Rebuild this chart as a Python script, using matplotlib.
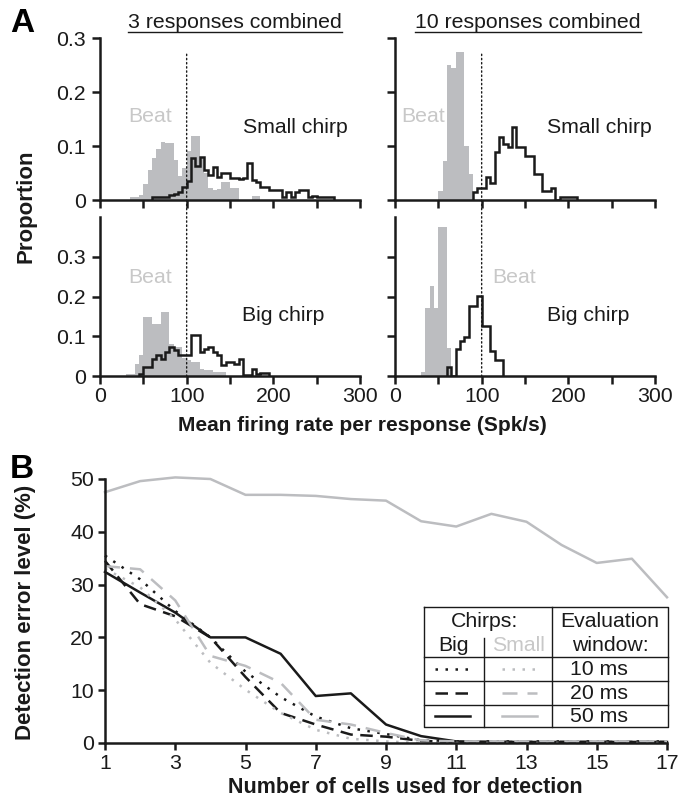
import numpy as np
import matplotlib
matplotlib.use("Agg")
import matplotlib.pyplot as plt
from matplotlib.lines import Line2D
from matplotlib.patches import ConnectionPatch

plt.rcParams['font.family'] = ['Liberation Sans', 'DejaVu Sans']

# ---- Panel A data: proportions per 5 Spk/s bin, with left edge of the first bin ----
BIN_WIDTH = 5

beat3_small_start = 35
beat3_small = [0.005, 0.005, 0.01, 0.03, 0.055, 0.077, 0.095, 0.108, 0.105, 0.105, 0.075,
               0.045, 0.06, 0.09, 0.118, 0.118, 0.08, 0.05, 0.022, 0.018, 0.02, 0.034,
               0.034, 0.022, 0.022, 0.0, 0.0, 0.0, 0.008, 0.008]
chirp3_small_start = 60
chirp3_small = [0.005, 0.005, 0.005, 0.005, 0.01, 0.012, 0.015, 0.025, 0.035, 0.077, 0.063,
                0.079, 0.055, 0.046, 0.062, 0.043, 0.05, 0.05, 0.04, 0.04, 0.038, 0.04,
                0.068, 0.037, 0.034, 0.025, 0.025, 0.018, 0.018, 0.018, 0.005, 0.015,
                0.005, 0.015, 0.018, 0.018, 0.005, 0.008, 0.005, 0.005, 0.005, 0.005]

beat10_small_start = 50
beat10_small = [0.017, 0.073, 0.25, 0.245, 0.274, 0.274, 0.10, 0.048]
chirp10_small_start = 90
chirp10_small = [0.014, 0.023, 0.023, 0.042, 0.031, 0.088, 0.116, 0.103, 0.099, 0.135,
                 0.099, 0.099, 0.082, 0.082, 0.048, 0.048, 0.016, 0.016, 0.023, 0.0,
                 0.006, 0.006, 0.006, 0.006]

beat3_big_start = 30
beat3_big = [0.006, 0.006, 0.031, 0.054, 0.148, 0.148, 0.13, 0.13, 0.16, 0.16, 0.08, 0.073,
             0.073, 0.046, 0.04, 0.035, 0.035, 0.018, 0.014, 0.014, 0.01, 0.01, 0.01]
chirp3_big_start = 45
chirp3_big = [0.006, 0.022, 0.022, 0.043, 0.053, 0.043, 0.06, 0.072, 0.066, 0.054, 0.054,
              0.054, 0.104, 0.104, 0.06, 0.068, 0.072, 0.06, 0.054, 0.027, 0.035, 0.035,
              0.031, 0.043, 0.003, 0.003, 0.017, 0.006, 0.008, 0.008]

beat10_big_start = 30
beat10_big = [0.011, 0.172, 0.227, 0.172, 0.376, 0.376, 0.07]
chirp10_big_start = 60
chirp10_big = [0.023, 0.0, 0.067, 0.087, 0.097, 0.176, 0.176, 0.202, 0.126, 0.126, 0.063,
               0.04, 0.04]

# ---- Panel B data: detection error (%) vs number of cells ----
cells = [1, 2, 3, 4, 5, 6, 7, 8, 9, 10, 11, 12, 13, 14, 15, 16, 17]
big_10ms = [35.5, 31.0, 25.0, 20.0, 13.5, 8.7, 5.0, 2.8, 1.7, 0.5, 0.3, 0.3, 0.3, 0.3, 0.3, 0.3, 0.3]
big_20ms = [34.5, 26.3, 24.0, 20.0, 12.5, 5.7, 3.5, 1.6, 1.2, 0.4, 0.2, 0.2, 0.2, 0.2, 0.2, 0.2, 0.2]
big_50ms = [32.4, 28.5, 24.7, 20.0, 20.0, 16.9, 8.9, 9.4, 3.5, 1.3, 0.3, 0.2, 0.2, 0.2, 0.2, 0.2, 0.2]
small_10ms = [33.0, 29.5, 23.4, 15.2, 10.1, 5.7, 2.5, 0.8, 0.3, 0.0, 0.0, 0.0, 0.0, 0.0, 0.0, 0.0, 0.0]
small_20ms = [33.5, 32.9, 27.0, 16.5, 14.6, 11.4, 4.4, 3.5, 1.9, 0.5, 0.3, 0.3, 0.3, 0.3, 0.3, 0.3, 0.3]
small_50ms = [47.5, 49.6, 50.3, 50.0, 47.0, 47.0, 46.8, 46.2, 45.9, 42.0, 41.0, 43.4, 41.9,
              37.5, 34.1, 34.9, 27.6]

GRAY = '#bcbdc0'
TXTGRAY = '#c8c8c8'
INK = '#1a1a1a'
FS = 15.3
FS_BOLD = 16

fig = plt.figure(figsize=(6.85, 8.0), dpi=100)


def style_hist_axis(ax, ymax, xlabels, ylabels):
    ax.set_xlim(0, 300)
    ax.set_ylim(0, ymax)
    ax.patch.set_visible(False)
    for s in ['top', 'right']:
        ax.spines[s].set_visible(False)
    for s in ['left', 'bottom']:
        ax.spines[s].set_linewidth(1.8)
        ax.spines[s].set_color(INK)
    ax.set_xticks([0, 100, 200, 300])
    ax.set_xticks([50, 150, 250], minor=True)
    ax.set_yticks([0, 0.1, 0.2, 0.3])
    ax.set_yticklabels(['0', '0.1', '0.2', '0.3'] if ylabels else [])
    if not xlabels:
        ax.set_xticklabels([])
    ax.tick_params(which='both', direction='out', length=6, width=1.8, color=INK,
                   labelsize=FS, labelcolor=INK)
    ax.tick_params(axis='x', which='both', pad=2)
    ax.tick_params(axis='y', pad=4)


def draw_hist(ax, beat_start, beat, chirp_start, chirp):
    be = beat_start + BIN_WIDTH * np.arange(len(beat) + 1)
    ax.bar(be[:-1], beat, width=BIN_WIDTH, align='edge', color=GRAY, linewidth=0, zorder=1)
    ce = chirp_start + BIN_WIDTH * np.arange(len(chirp) + 1)
    ax.stairs(chirp, ce, baseline=0, color=INK, linewidth=1.8, zorder=2)


W, H = 685, 800
ax_tl = fig.add_axes([100 / W, 1 - 200 / H, 260 / W, 162 / H])
ax_tr = fig.add_axes([395 / W, 1 - 200 / H, 260 / W, 162 / H])
ax_bl = fig.add_axes([100 / W, 1 - 376 / H, 260 / W, 159 / H])
ax_br = fig.add_axes([395 / W, 1 - 376 / H, 260 / W, 159 / H])

draw_hist(ax_tl, beat3_small_start, beat3_small, chirp3_small_start, chirp3_small)
draw_hist(ax_tr, beat10_small_start, beat10_small, chirp10_small_start, chirp10_small)
draw_hist(ax_bl, beat3_big_start, beat3_big, chirp3_big_start, chirp3_big)
draw_hist(ax_br, beat10_big_start, beat10_big, chirp10_big_start, chirp10_big)

style_hist_axis(ax_tl, 0.3, False, True)
style_hist_axis(ax_tr, 0.3, False, False)
style_hist_axis(ax_bl, 0.4, True, True)
style_hist_axis(ax_br, 0.4, True, False)

ax_tl.text(58, 0.154, 'Beat', color=TXTGRAY, fontsize=FS, ha='center', va='center')
ax_tl.text(225, 0.135, 'Small chirp', color=INK, fontsize=FS, ha='center', va='center')
ax_tr.text(33, 0.154, 'Beat', color=TXTGRAY, fontsize=FS, ha='center', va='center')
ax_tr.text(236, 0.135, 'Small chirp', color=INK, fontsize=FS, ha='center', va='center')
ax_bl.text(58, 0.247, 'Beat', color=TXTGRAY, fontsize=FS, ha='center', va='center')
ax_bl.text(211, 0.153, 'Big chirp', color=INK, fontsize=FS, ha='center', va='center')
ax_br.text(137, 0.247, 'Beat', color=TXTGRAY, fontsize=FS, ha='center', va='center')
ax_br.text(223, 0.153, 'Big chirp', color=INK, fontsize=FS, ha='center', va='center')

# dotted threshold line at 100 Spk/s running through both rows
for top, bot in [(ax_tl, ax_bl), (ax_tr, ax_br)]:
    con = ConnectionPatch(xyA=(100, 0.27), coordsA=top.transData,
                          xyB=(100, 0), coordsB=bot.transData,
                          linestyle=(0, (1, 2)), linewidth=1.0, color=INK, zorder=5)
    fig.add_artist(con)

# column titles, underlined
titles = []
titles.append(fig.text(235 / W, 1 - 22 / H, '3 responses combined', fontsize=FS,
                       ha='center', va='center', color=INK))
titles.append(fig.text(528 / W, 1 - 22 / H, '10 responses combined', fontsize=FS,
                       ha='center', va='center', color=INK))
fig.canvas.draw()
renderer = fig.canvas.get_renderer()
for t in titles:
    bb = t.get_window_extent(renderer).transformed(fig.transFigure.inverted())
    fig.add_artist(Line2D([bb.x0, bb.x1], [1 - 32 / H, 1 - 32 / H], color=INK, linewidth=1.0))

fig.text(22 / W, 1 - 24 / H, 'A', fontsize=24, fontweight='bold', ha='center', va='center')
fig.text(26 / W, 1 - 206 / H, 'Proportion', fontsize=FS_BOLD, fontweight='bold', rotation=90,
         ha='center', va='center', color=INK)
fig.text(362 / W, 1 - 431 / H, 'Mean firing rate per response (Spk/s)', fontsize=15,
         fontweight='bold', ha='center', va='baseline', color=INK)

# ---- Panel B ----
axb = fig.add_axes([105 / W, 1 - 743 / H, 562 / W, 264 / H])
axb.patch.set_visible(False)
LW = 1.8
series = [
    (big_10ms, INK, (0, (1, 3))),
    (big_20ms, INK, (0, (5, 3))),
    (big_50ms, INK, '-'),
    (small_10ms, GRAY, (0, (1, 3))),
    (small_20ms, GRAY, (0, (6, 4))),
    (small_50ms, GRAY, '-'),
]
for vals, col, ls in series:
    axb.plot(cells, vals, color=col, linestyle=ls, linewidth=LW, clip_on=False)

axb.set_xlim(1, 17)
axb.set_ylim(0, 50)
for s in ['top', 'right']:
    axb.spines[s].set_visible(False)
for s in ['left', 'bottom']:
    axb.spines[s].set_linewidth(1.8)
    axb.spines[s].set_color(INK)
axb.set_xticks(cells[::2])
axb.set_yticks([0, 10, 20, 30, 40, 50])
axb.tick_params(direction='out', length=5, width=1.8, color=INK, labelsize=FS,
                labelcolor=INK, pad=3)

fig.text(22 / W, 1 - 470 / H, 'B', fontsize=24, fontweight='bold', ha='center', va='center')
fig.text(26 / W, 1 - 612 / H, 'Detection error level (%)', fontsize=FS_BOLD, fontweight='bold',
         rotation=90, ha='center', va='center', color=INK)
fig.text(405 / W, 1 - 798 / H, 'Number of cells used for detection', fontsize=15.5,
         fontweight='bold', ha='center', va='bottom', color=INK)

# legend table drawn in axes fraction
tr = axb.transAxes
x0, xc1, xc2, x1 = 0.568, 0.674, 0.795, 1.002
y_top, y_head, y_r1, y_r2, y_bot = 0.515, 0.326, 0.235, 0.144, 0.061
tbl = dict(transform=tr, color=INK, linewidth=1.0, clip_on=False)
axb.plot([x0, x1, x1, x0, x0], [y_top, y_top, y_bot, y_bot, y_top], **tbl)
for yy in [y_head, y_r1, y_r2]:
    axb.plot([x0, x1], [yy, yy], **tbl)
axb.plot([xc2, xc2], [y_top, y_bot], **tbl)
axb.plot([xc1, xc1], [0.398, y_bot], **tbl)

tkw = dict(transform=tr, fontsize=FS, va='center', color=INK)
axb.text(0.676, 0.462, 'Chirps:', ha='center', **tkw)
axb.text(0.620, 0.368, 'Big', ha='center', **tkw)
axb.text(0.735, 0.368, 'Small', ha='center', transform=tr, fontsize=FS, va='center',
         color=TXTGRAY)
axb.text(0.899, 0.462, 'Evaluation', ha='center', **tkw)
axb.text(0.899, 0.368, 'window:', ha='center', **tkw)
rows = [(0.280, '10 ms', (0, (1, 3)), (0, (1, 3))),
        (0.189, '20 ms', (0, (5, 3)), (0, (6, 4))),
        (0.102, '50 ms', '-', '-')]
for yy, lab, ls_big, ls_small in rows:
    axb.plot([0.587, 0.649], [yy, yy], transform=tr, color=INK, linestyle=ls_big,
             linewidth=LW, clip_on=False)
    axb.plot([0.706, 0.769], [yy, yy], transform=tr, color=GRAY, linestyle=ls_small,
             linewidth=LW, clip_on=False)
    axb.text(0.827, yy, lab, ha='left', **tkw)

fig.savefig('out.png', dpi=100)
